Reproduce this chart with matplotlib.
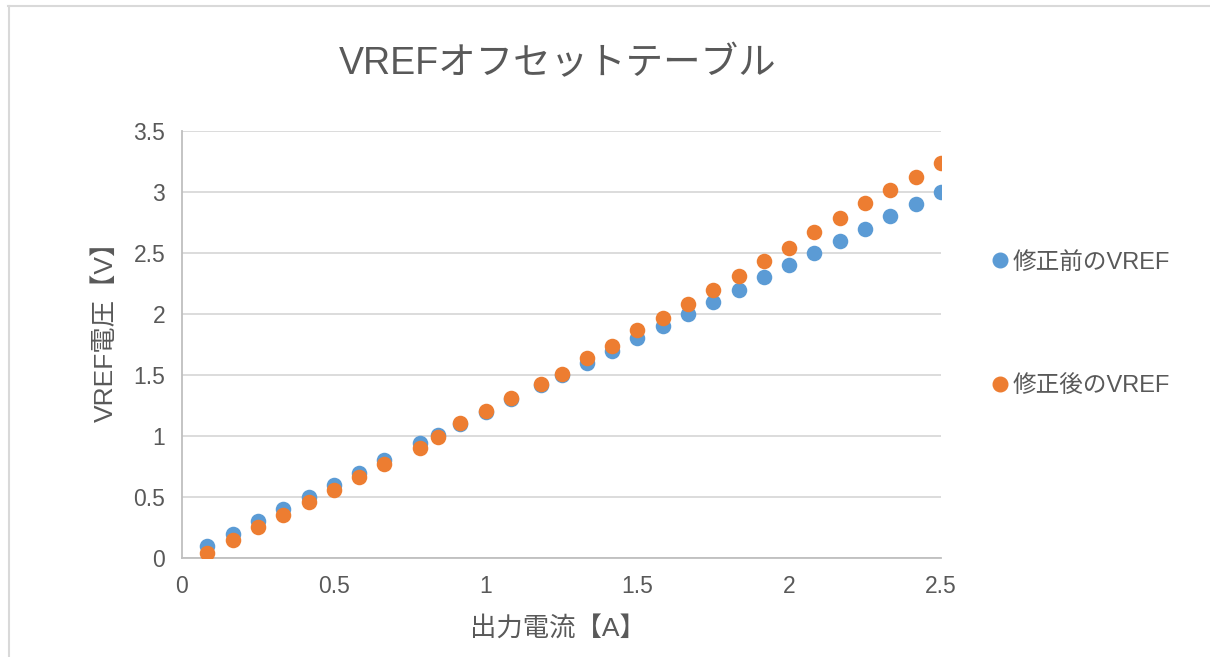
import matplotlib
matplotlib.use("Agg")
import matplotlib.pyplot as plt
from matplotlib.lines import Line2D

plt.rcParams['font.family'] = ['Liberation Sans', 'Noto Sans CJK JP', 'DejaVu Sans']

title = "VREFオフセットテーブル"
xlabel = "出力電流【A】"
ylabel = "VREF電圧【V】"
series_names = ["修正前のVREF", "修正後のVREF"]

current = [0.083, 0.167, 0.25, 0.333, 0.417, 0.5, 0.583, 0.667, 0.783, 0.842,
           0.917, 1.0, 1.083, 1.183, 1.25, 1.333, 1.417, 1.5, 1.583, 1.667,
           1.75, 1.833, 1.917, 2.0, 2.083, 2.167, 2.25, 2.333, 2.417, 2.5]
vref_before = [0.10, 0.20, 0.30, 0.40, 0.50, 0.60, 0.70, 0.80, 0.94, 1.01,
               1.10, 1.20, 1.30, 1.42, 1.50, 1.60, 1.70, 1.80, 1.90, 2.00,
               2.10, 2.20, 2.30, 2.40, 2.50, 2.60, 2.70, 2.80, 2.90, 3.00]
vref_after = [0.04, 0.15, 0.255, 0.355, 0.455, 0.56, 0.665, 0.77, 0.905, 0.995,
              1.105, 1.205, 1.31, 1.43, 1.51, 1.64, 1.74, 1.865, 1.965, 2.08,
              2.20, 2.315, 2.435, 2.545, 2.67, 2.785, 2.91, 3.02, 3.12, 3.235]

xticks = [0, 0.5, 1, 1.5, 2, 2.5]
xtick_labels = ["0", "0.5", "1", "1.5", "2", "2.5"]
yticks = [0, 0.5, 1, 1.5, 2, 2.5, 3, 3.5]
ytick_labels = ["0", "0.5", "1", "1.5", "2", "2.5", "3", "3.5"]

blue = "#5B9BD5"
orange = "#ED7D31"
text_col = "#595959"
grid_col = "#D9D9D9"

fig = plt.figure(figsize=(12.1, 6.57), dpi=100)
ax = fig.add_axes([0.1504, 0.1507, 0.6273, 0.6499])

ax.scatter(current, vref_before, s=125, color=blue, zorder=3, linewidths=0)
ax.scatter(current, vref_after, s=125, color=orange, zorder=4, linewidths=0)

ax.set_xlim(0, 2.5)
ax.set_ylim(0, 3.5)
ax.set_xticks(xticks)
ax.set_xticklabels(xtick_labels)
ax.set_yticks(yticks)
ax.set_yticklabels(ytick_labels)
ax.tick_params(axis='both', length=0, labelsize=16.5, colors=text_col)
ax.tick_params(axis='x', pad=12)
ax.tick_params(axis='y', pad=12)
ax.grid(axis='y', color=grid_col, linewidth=1.3, zorder=0)
ax.set_axisbelow(True)
for s in ['top', 'right']:
    ax.spines[s].set_visible(False)
for s in ['left', 'bottom']:
    ax.spines[s].set_color('#BFBFBF')
    ax.spines[s].set_linewidth(1.3)

fig.text(0.461, 0.903, title, ha='center', va='center', fontsize=27, color=text_col)
fig.text(0.087, 0.505, ylabel, ha='center', va='center', rotation=90, fontsize=19, color=text_col)
fig.text(0.461, 0.044, xlabel, ha='center', va='center', fontsize=19, color=text_col)

handles = [Line2D([0], [0], marker='o', linestyle='none', markersize=10.5, color=blue),
           Line2D([0], [0], marker='o', linestyle='none', markersize=10.5, color=orange)]
leg = fig.legend(handles, series_names, loc='upper left', bbox_to_anchor=(0.818, 0.617),
                 frameon=False, fontsize=17, handletextpad=0.05, handlelength=0.9,
                 labelspacing=4.3, labelcolor=text_col, borderaxespad=0, borderpad=0)

# chart border (top and left)
fig.add_artist(Line2D([0.007, 1.0], [0.991, 0.991], transform=fig.transFigure, color='#D9D9D9', linewidth=1.5))
fig.add_artist(Line2D([0.0074, 0.0074], [0.0, 0.991], transform=fig.transFigure, color='#D9D9D9', linewidth=1.5))

fig.savefig("out.png", dpi=100)
